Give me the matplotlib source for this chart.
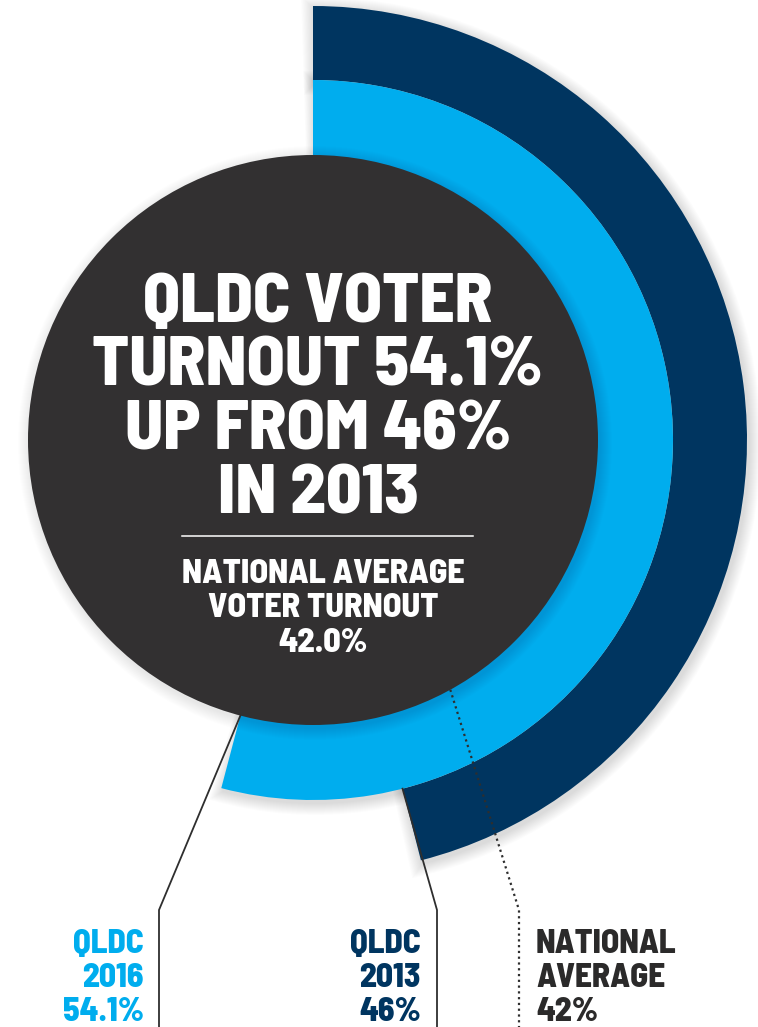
#!/usr/bin/env python3
"""QLDC voter turnout infographic: concentric arcs with a dark centre disc."""
import os, numpy as np, matplotlib as mpl
mpl.use("Agg"); import matplotlib.pyplot as plt
from matplotlib.patches import Wedge, Circle
from matplotlib import font_manager as fm

LB, NV, DK, TX = "#00adee", "#003560", "#323031", "#2b2a2a"

# ---- data ----
series = ["QLDC 2016", "QLDC 2013", "National average"]
turnout = [54.1, 46.0, 42.0]
label_lines = [["QLDC", "2016", "54.1%"], ["QLDC", "2013", "46%"], ["NATIONAL", "AVERAGE", "42%"]]
title_lines = ["QLDC VOTER", "TURNOUT 54.1%", "UP FROM 46%", "IN 2013"]
sub_lines = ["NATIONAL AVERAGE", "VOTER TURNOUT", "42.0%"]

# condensed heavy face if one is around, else DejaVu
files = {os.path.basename(f.fname): f.fname for f in fm.fontManager.ttflist}
for want in ["BarlowSemiCondensed-ExtraBold.ttf", "BarlowSemiCondensed-Bold.ttf",
             "BarlowCondensed-Bold.ttf", "DejaVuSansCondensed-Bold.ttf"]:
    if want in files:
        FP = dict(fontproperties=fm.FontProperties(fname=files[want])); break
else:
    FP = dict(family="DejaVu Sans", fontweight="bold")

W, H = 758, 1027
fig = plt.figure(figsize=(W / 100, H / 100), dpi=100)
ax = fig.add_axes([0, 0, 1, 1]); ax.set_xlim(0, W); ax.set_ylim(0, H); ax.axis("off")

C = (313, H - 440)          # centre of the rings
R_DISC, R_LB, R_NV = 285, 360, 434

def ang(pct):               # clockwise from 12 o'clock -> matplotlib degrees
    return 90 - pct * 3.6

def pt(pct, r):
    a = np.radians(ang(pct)); return C[0] + r * np.cos(a), C[1] + r * np.sin(a)

def shadow(r_out, width, t1, t2, n=12, a=0.010):
    for k in range(1, n + 1):
        ax.add_patch(Wedge((C[0] + 2, C[1] - 3), r_out + k, t1 - k * 0.15, t2 + k * 0.15,
                           width=width + 2 * k, fc="k", ec="none", alpha=a, zorder=1))

def T(x, y, s, fs, c="white", ha="center"):
    t = ax.text(x, H - y, s, color=c, ha=ha, va="baseline", zorder=8, **FP)
    t.set_fontsize(fs)

# navy ring (2013)
shadow(R_NV, R_NV - R_LB, ang(turnout[1]), 90)
ax.add_patch(Wedge(C, R_NV, ang(turnout[1]), 90, width=R_NV - R_LB, fc=NV, ec="none", zorder=2))
# light blue ring (2016)
shadow(R_LB, R_LB - R_DISC, ang(turnout[0]), 90)
ax.add_patch(Wedge(C, R_LB, ang(turnout[0]), 90, width=R_LB - R_DISC + 5, fc=LB, ec="none", zorder=3))
# dark disc
for k in range(1, 13):
    ax.add_patch(Circle((C[0] + 2, C[1] - 3), R_DISC + k, fc="k", ec="none", alpha=0.008, zorder=4))
ax.add_patch(Circle(C, R_DISC, fc=DK, ec="none", zorder=5))

# ---- title inside the disc ----
for s, yb in zip(title_lines, [322, 385, 449, 513]):
    T(318, yb, s, 50)
ax.plot([182, 473], [H - 536, H - 536], color="white", lw=1.1, zorder=6)
for s, yb in zip(sub_lines, [583, 617, 652]):
    T(323, yb, s, 24.5)

# ---- leader lines and bottom labels ----
starts = [(turnout[0], R_DISC), (turnout[1], R_LB), (turnout[2], R_DISC)]
kink_x = [159, 437, 519]
styles = ["-", "-", (0, (1, 1.6))]
lws = [1.3, 1.3, 1.6]
for (p, r), kx, ls, lw in zip(starts, kink_x, styles, lws):
    x0, y0 = pt(p, r)
    ax.plot([x0, kx, kx], [y0, H - 910, -5], color="#2e2e2e", lw=lw, ls=ls,
            solid_joinstyle="miter", zorder=7)

lab_x = [144, 421, 536]
lab_ha = ["right", "right", "left"]
lab_c = [LB, NV, TX]
for lines, lx, ha, c in zip(label_lines, lab_x, lab_ha, lab_c):
    for s, yb in zip(lines, [953, 987, 1021]):
        T(lx, yb, s, 24, c=c, ha=ha)

fig.savefig("out.png", dpi=100, facecolor="white")
